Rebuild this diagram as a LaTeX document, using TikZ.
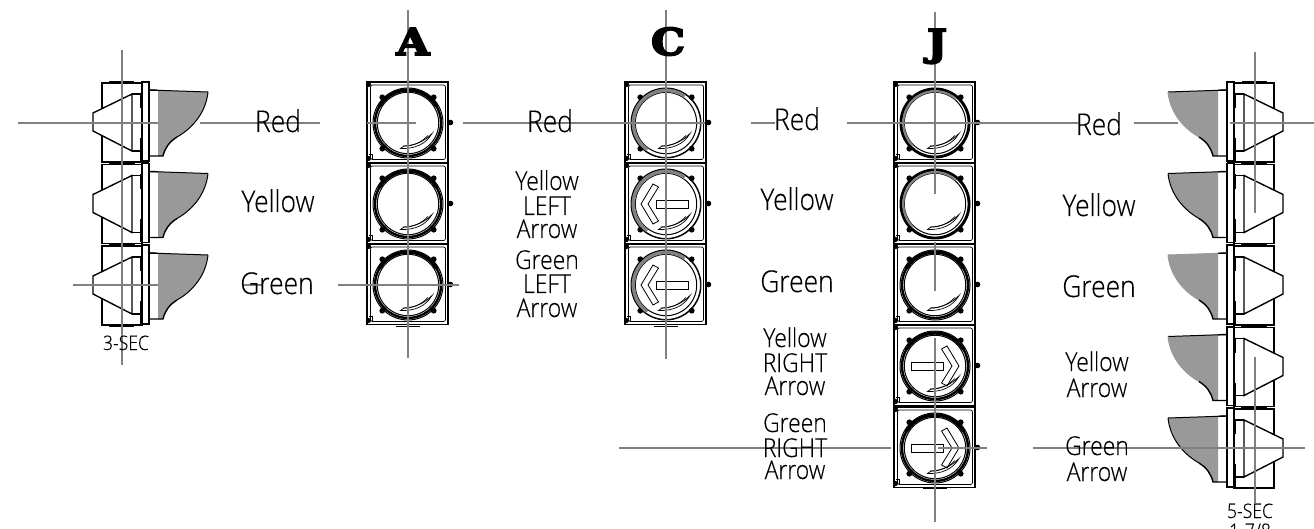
\documentclass[tikz,border=0pt]{standalone}
\usepackage{fontspec}
\setmainfont{Open Sans}[UprightFont=* Light,FakeStretch=0.88,FakeBold=0.3]
\newfontfamily\titlefont{DejaVu Serif}[UprightFont=* Bold,FakeBold=5,FakeStretch=1.15]
\definecolor{cross}{HTML}{808080}
\definecolor{visorgray}{HTML}{999999}
\definecolor{ringgray}{HTML}{828282}
\tikzset{
  x=1pt,y=-1pt,
  crossline/.style={cross,line width=1.2pt},
  thickline/.style={black,line width=1.4pt},
  thinline/.style={black,line width=.7pt},
  biglabel/.style={anchor=base,inner sep=0pt,font=\fontsize{30}{30}\selectfont},
  smalllabel/.style={anchor=base,inner sep=0pt,font=\fontsize{26}{26}\selectfont},
  tinylabel/.style={anchor=base,inner sep=0pt,font=\fontsize{20}{20}\selectfont},
  titlelabel/.style={anchor=base,inner sep=0pt,font=\titlefont\fontsize{37}{37}\selectfont},
}
% side view: x0, top, direction, colour of visor top, colour of upper visor curve
\newcommand{\sidemod}[5]{%
\begin{scope}[shift={(#1,#2)},xscale=#3]
  \fill[visorgray] (9,8.3) -- (59,10) .. controls (57,30) and (44,46) .. (28,55)
     .. controls (20,60) and (16,66) .. (14,74) -- (9,74) -- cycle;
  \draw[thickline] (-7,0) rectangle (0,79);
  \draw[thickline] (-7,1) rectangle (-47,80);
  \draw[thickline,fill=white] (-17,12) -- (-56,31) -- (-56,49) -- (-17,69) -- cycle;
  \draw[thickline] (-17,12) -- (-8,12) (-17,69) -- (-8,69);
  \draw[thickline] (-8,11) -- (-8,26) (-8,56) -- (-8,79);
  \draw[#4,line width=1pt] (0,8) -- (59,10);
  \draw[thickline] (0,8) -- (9,8.3);
  \draw[#5,line width=1pt] (59,10) .. controls (57,30) and (44,46) .. (28,55);
  \draw[thickline] (28,55) .. controls (20,60) and (16,66) .. (14,74) -- (0,74);
\end{scope}}
\newcommand{\sidecap}[3]{%
\begin{scope}[shift={(#1,#2)},xscale=#3]
  \draw[black,line width=2pt] (-40,0) -- (-15,0);
\end{scope}}
\newcommand{\sidejoin}[3]{%
\begin{scope}[shift={(#1,#2)},xscale=#3]
  \draw[black,line width=3pt] (-40,0) -- (-14,0);
  \draw[black,line width=2pt] (-7,0) -- (0,0);
\end{scope}}
% front view: cx, cy, ring kind (0 black, 1 gray, 2 black and gray)
\newcommand{\frontmod}[3]{%
\begin{scope}[shift={(#1,#2)}]
  \draw[black,line width=1.3pt] (-41,-41) rectangle (40,39.5);
  \draw[thinline,rounded corners=2pt] (-37.5,-38) rectangle (37.5,36.5);
  \fill[black] (-39.5,-38.5) circle (2.6) (-39.5,35.5) circle (2.6);
  \draw[thinline] (-39,31) -- (-36,31) -- (-36,36);
  \fill[black] (42.5,-0.5) circle (2.8);
  \draw[black,line width=1pt,fill=white] (0,0) circle (35);
  \foreach \sx in {-1,1} \foreach \sy in {-1,1}
    \fill[black] (\sx*25.7,\sy*25.7) circle (2.9);
  \fill[white] (0,0) circle (33);
  \draw[black,line width=1pt] (0,0) circle (30.7);
  \ifcase#3\relax
    \draw[black,line width=2.4pt] (0,0) circle (33);
    \draw[black,line width=3.4pt] (0,0) ++(-150:33) arc (-150:-30:33);
  \or
    \draw[thinline] (0,0) circle (34.4);
    \draw[ringgray,line width=3.4pt] (0,0) ++(-55:32.6) arc (-55:-235:32.6);
  \or
    \draw[black,line width=2.4pt] (0,0) circle (33.8);
    \draw[ringgray,line width=2.2pt] (0,0) ++(-50:31.8) arc (-50:-225:31.8);
  \fi
  \draw[thinline,fill=white] (-7.5,25.5) .. controls (7,26) and (18,21) .. (24,10.5)
     .. controls (17,18) and (7,22.5) .. (-4,23) -- cycle;
  \draw[thinline] (-5,23) .. controls (4,23.5) and (13,20) .. (20,12.5);
\end{scope}}
\newcommand{\frontarrow}[3]{%
\begin{scope}[shift={(#1,#2)},xscale=#3]
  \draw[thinline,line width=.8pt] (-13,-20) -- (-25,0) -- (-13,20) -- (-7.5,17) -- (-18,0) -- (-7.5,-17) -- cycle;
  \draw[thinline,line width=.8pt] (-9.3,-3.5) rectangle (22.3,4.5);
\end{scope}}
\begin{document}
\begin{tikzpicture}
\useasboundingbox (0,0) rectangle (1314,529);
% left side view
\foreach \t in {82,163.5,245} {\sidemod{149}{\t}{1}{black}{black}}
\sidecap{149}{82}{1} \sidecap{149}{326}{1}
\sidejoin{149}{163.5}{1} \sidejoin{149}{245}{1}
% right side view
\sidemod{1227}{82}{-1}{black}{visorgray}
\sidemod{1227}{163.5}{-1}{black}{black}
\sidemod{1227}{245}{-1}{visorgray}{visorgray}
\sidemod{1227}{326.5}{-1}{black}{visorgray}
\sidemod{1227}{408}{-1}{black}{black}
\sidecap{1227}{82}{-1} \sidecap{1227}{488}{-1}
\foreach \t in {163.5,245,326.5,408} {\sidejoin{1227}{\t}{-1}}
% head A
\foreach \c in {123,204,285} {\frontmod{408}{\c}{0}}
% head C
\foreach \c in {123,204,285} {\frontmod{666}{\c}{1}}
\frontarrow{666}{204}{1} \frontarrow{666}{285}{1}
% head J
\frontmod{935}{123}{2} \frontmod{935}{204}{2}
\frontmod{935}{285}{0} \frontmod{935}{366}{0} \frontmod{935}{448}{0}
\frontarrow{934}{366}{-1} \frontarrow{934}{448}{-1}
% tops
\draw[black,line width=1pt] (396,81.5) -- (420,81.5) (654,81.5) -- (678,81.5) (923,81.5) -- (947,81.5)
  (396,326) -- (420,326) (654,326) -- (678,326) (923,488) -- (947,488);
% cross lines
\draw[crossline] (122,50) -- (122,365);
\draw[crossline] (18,123) -- (158,123) (200,123) -- (320,123);
\draw[crossline] (73,285) -- (158,285) (242,285) -- (263,285);
\draw[crossline] (408,10) -- (408,358);
\draw[crossline] (367,123) -- (416,123) (463,123) -- (705,123);
\draw[crossline] (338,285) -- (459,285);
\draw[crossline] (666,10) -- (666,359);
\draw[crossline] (935,12) -- (935,194) (935,242) -- (935,291) (935,338) -- (935,522);
\draw[crossline] (751,123) -- (775,123) (847,123) -- (1078,123);
\draw[crossline] (1134,123) -- (1178,123) (1230,123) -- (1314,123);
\draw[crossline] (619,448) -- (891,448) (938,448) -- (987,448);
\draw[crossline] (1033,448) -- (1305,448);
\draw[crossline] (1255,52) -- (1255,213) (1255,357) -- (1255,503);
% titles
\node[titlelabel] (tA) at (413,55) {A};
\node[titlelabel] (tC) at (668,55) {C};
\node[titlelabel] (tJ) at (937,56) {J};
% left labels
\node[biglabel] (l1) at (278,132) {Red};
\node[biglabel] (l2) at (278,212) {Yellow};
\node[biglabel] (l3) at (277,294) {Green};
\node[tinylabel] (l4) at (126,350) {3-SEC};
% labels A-C
\node[biglabel] (m1) at (550,132) {Red};
\node[smalllabel] (m2) at (547,190) {Yellow};
\node[smalllabel] (m3) at (547,215) {LEFT};
\node[smalllabel] (m4) at (547,238) {Arrow};
\node[smalllabel] (m5) at (547,269) {Green};
\node[smalllabel] (m6) at (547,293) {LEFT};
\node[smalllabel] (m7) at (547,317) {Arrow};
% labels C-J
\node[biglabel] (j1) at (797,130) {Red};
\node[biglabel] (j2) at (797,210) {Yellow};
\node[biglabel] (j3) at (797,292) {Green};
\node[smalllabel] (j4) at (795,347) {Yellow};
\node[smalllabel] (j5) at (795,372) {RIGHT};
\node[smalllabel] (j6) at (795,395) {Arrow};
\node[smalllabel] (j7) at (795,432) {Green};
\node[smalllabel] (j8) at (795,457) {RIGHT};
\node[smalllabel] (j9) at (795,479) {Arrow};
% right labels
\node[biglabel] (r1) at (1099,135) {Red};
\node[biglabel] (r2) at (1099,216) {Yellow};
\node[biglabel] (r3) at (1099,297) {Green};
\node[smalllabel] (r4) at (1097,371) {Yellow};
\node[smalllabel] (r5) at (1097,397) {Arrow};
\node[smalllabel] (r6) at (1097,455) {Green};
\node[smalllabel] (r7) at (1097,481) {Arrow};
\node[tinylabel] (r8) at (1250,518) {5-SEC};
\node[tinylabel] (r9) at (1250,538) {1-7/8};
\end{tikzpicture}
\end{document}
